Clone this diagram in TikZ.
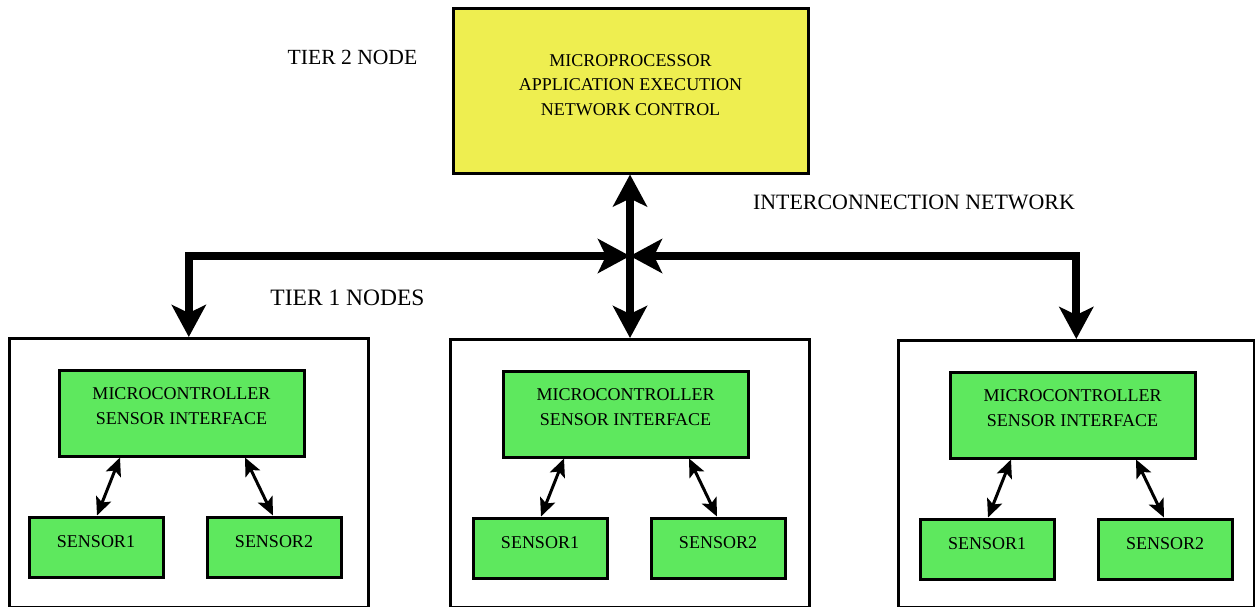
\documentclass[tikz,border=0pt]{standalone}
\usepackage{fontspec}
\setmainfont{Liberation Serif}
\usetikzlibrary{arrows.meta}

\definecolor{procyellow}{RGB}{238,238,80}
\definecolor{ctrlgreen}{RGB}{94,232,94}

\tikzset{
  tierbox/.style={draw=black, line width=2.6pt, rectangle, inner sep=0pt},
  procbox/.style={draw=black, fill=procyellow, line width=3pt, rectangle, inner sep=0pt,
                  minimum width=355pt, minimum height=165pt},
  ctrlbox/.style={draw=black, fill=ctrlgreen, line width=3pt, rectangle, inner sep=0pt,
                  minimum width=245pt, minimum height=86pt},
  sensbox/.style={draw=black, fill=ctrlgreen, line width=3pt, rectangle, inner sep=0pt,
                  minimum width=134pt, minimum height=60pt},
  boxtext/.style={inner sep=0pt, align=center, font=\fontsize{18}{24.8}\selectfont},
  caption/.style={inner sep=0pt, font=\fontsize{21.6}{26}\selectfont},
  busline/.style={line width=8pt, line join=miter,
                  {Stealth[length=32pt, width=34pt, inset=8pt]}-{Stealth[length=32pt, width=34pt, inset=8pt]}},
  linkline/.style={line width=3pt,
                  {Stealth[length=18pt, width=16pt, inset=4pt]}-{Stealth[length=18pt, width=16pt, inset=4pt]}}
}

\begin{document}
\begin{tikzpicture}[x=1pt, y=-1pt]
  \useasboundingbox (0,0) rectangle (1255,606);
  \clip (0,0) rectangle (1255,606);

  % tier 2 processor
  \node[procbox] (proc) at (630.5,90.5) {};
  \node[boxtext] (proctext) at (630.5,85) {MICROPROCESSOR\\APPLICATION EXECUTION\\NETWORK CONTROL};

  % captions
  \node[caption] (cap2) at (352.5,57) {TIER 2 NODE};
  \node[caption, font=\fontsize{21.9}{26}\selectfont] (capnet) at (914,202) {INTERCONNECTION NETWORK};
  \node[caption, font=\fontsize{23.5}{28}\selectfont] (cap1) at (347.5,297.5) {TIER 1 NODES};

  % tier 1 nodes: outer frame, controller and two sensors
  \foreach \i/\ox/\ow/\oy/\gx/\gy in {1/8/359/337/0/0, 2/449/359/338/444/1, 3/897/356/339/891/2}{
    \node[tierbox, anchor=north west, minimum width=\ow pt, minimum height={606-\oy}]
      (tier\i) at (\ox,\oy) {};
    \node[ctrlbox] (ctrl\i) at (181.5+\gx,413+\gy) {};
    \node[boxtext] (ctrltext\i) at (181.5+\gx,406.5+\gy) {MICROCONTROLLER\\SENSOR INTERFACE};
    \node[sensbox] (sa\i) at (96+\gx,547+\gy) {};
    \node[boxtext] (satext\i) at (96+\gx,542+\gy) {SENSOR1};
    \node[sensbox] (sb\i) at (274+\gx,547+\gy) {};
    \node[boxtext] (sbtext\i) at (274+\gx,542+\gy) {SENSOR2};
    \draw[linkline] ([xshift=-61.5pt]ctrl\i.south) -- ([xshift=1pt]sa\i.north);
    \draw[linkline] ([xshift=63.5pt]ctrl\i.south) -- ([xshift=-1pt]sb\i.north);
  }

  % interconnection network
  \coordinate (hub) at (630,256);
  \draw[busline] (proc.south -| hub) -- (tier2.north -| hub);
  \draw[busline] (tier1.north) |- (hub);
  \draw[busline] (tier3.north) |- (hub);
\end{tikzpicture}
\end{document}
